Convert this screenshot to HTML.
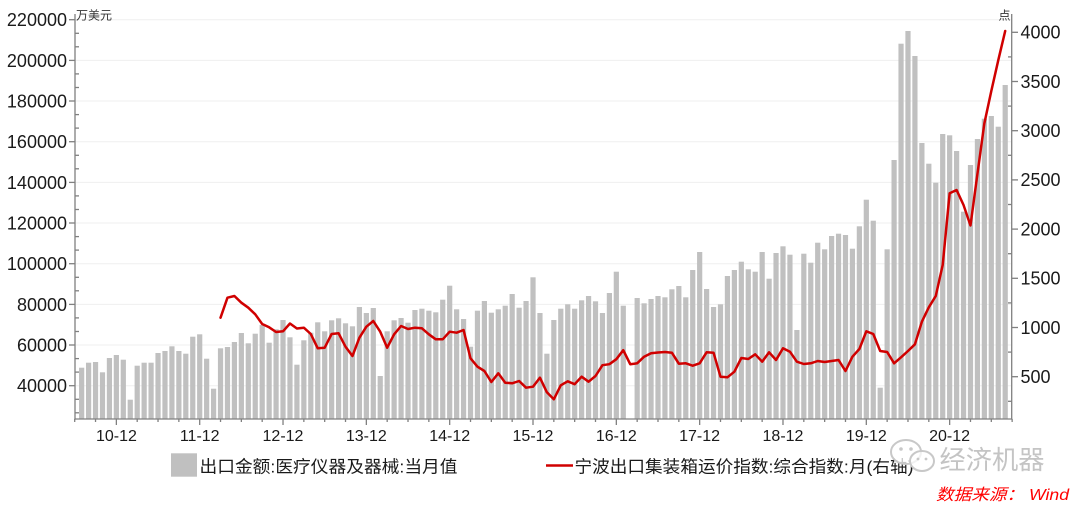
<!DOCTYPE html>
<html><head><meta charset="utf-8"><style>
html,body{margin:0;padding:0;background:#fff;width:1080px;height:505px;overflow:hidden;}
svg{display:block;font-family:"Liberation Sans","Noto Sans CJK SC",sans-serif;}
</style></head><body>
<svg width="1080" height="505" viewBox="0 0 1080 505" xmlns="http://www.w3.org/2000/svg">
<rect x="0" y="0" width="1080" height="505" fill="#fff"/>
<!-- grid -->
<g stroke="#efefef" stroke-width="1">
<line x1="75" x2="1011" y1="19.7" y2="19.7"/><line x1="75" x2="1011" y1="60.4" y2="60.4"/><line x1="75" x2="1011" y1="101" y2="101"/><line x1="75" x2="1011" y1="141.7" y2="141.7"/><line x1="75" x2="1011" y1="182.4" y2="182.4"/><line x1="75" x2="1011" y1="223" y2="223"/><line x1="75" x2="1011" y1="263.7" y2="263.7"/><line x1="75" x2="1011" y1="304.4" y2="304.4"/><line x1="75" x2="1011" y1="345" y2="345"/><line x1="75" x2="1011" y1="385.7" y2="385.7"/>
</g>
<!-- bars -->
<g transform="translate(72.1 0) scale(6.944 1)" fill="#c0c0c0">
<rect x="1" y="367.7" width="0.75" height="51.3"/><rect x="2" y="362.7" width="0.75" height="56.3"/><rect x="3" y="362" width="0.75" height="57"/><rect x="4" y="372.3" width="0.75" height="46.7"/><rect x="5" y="358" width="0.75" height="61"/><rect x="6" y="355" width="0.75" height="64"/><rect x="7" y="359.7" width="0.75" height="59.3"/><rect x="8" y="399.7" width="0.75" height="19.3"/><rect x="9" y="365.7" width="0.75" height="53.3"/><rect x="10" y="362.7" width="0.75" height="56.3"/>
<rect x="11" y="362.7" width="0.75" height="56.3"/><rect x="12" y="353" width="0.75" height="66"/><rect x="13" y="351" width="0.75" height="68"/><rect x="14" y="346.3" width="0.75" height="72.7"/><rect x="15" y="351" width="0.75" height="68"/><rect x="16" y="353.7" width="0.75" height="65.3"/><rect x="17" y="336.7" width="0.75" height="82.3"/><rect x="18" y="334.3" width="0.75" height="84.7"/><rect x="19" y="358.7" width="0.75" height="60.3"/><rect x="20" y="388.7" width="0.75" height="30.3"/>
<rect x="21" y="348.3" width="0.75" height="70.7"/><rect x="22" y="347" width="0.75" height="72"/><rect x="23" y="342" width="0.75" height="77"/><rect x="24" y="333" width="0.75" height="86"/><rect x="25" y="343.3" width="0.75" height="75.7"/><rect x="26" y="333.7" width="0.75" height="85.3"/><rect x="27" y="325" width="0.75" height="94"/><rect x="28" y="342.7" width="0.75" height="76.3"/><rect x="29" y="329.3" width="0.75" height="89.7"/><rect x="30" y="320" width="0.75" height="99"/>
<rect x="31" y="337.3" width="0.75" height="81.7"/><rect x="32" y="364.7" width="0.75" height="54.3"/><rect x="33" y="340.3" width="0.75" height="78.7"/><rect x="34" y="332.7" width="0.75" height="86.3"/><rect x="35" y="322.3" width="0.75" height="96.7"/><rect x="36" y="331.3" width="0.75" height="87.7"/><rect x="37" y="320.3" width="0.75" height="98.7"/><rect x="38" y="318.3" width="0.75" height="100.7"/><rect x="39" y="323.3" width="0.75" height="95.7"/><rect x="40" y="326.3" width="0.75" height="92.7"/>
<rect x="41" y="307" width="0.75" height="112"/><rect x="42" y="313" width="0.75" height="106"/><rect x="43" y="308" width="0.75" height="111"/><rect x="44" y="376" width="0.75" height="43"/><rect x="45" y="331.3" width="0.75" height="87.7"/><rect x="46" y="320.3" width="0.75" height="98.7"/><rect x="47" y="318" width="0.75" height="101"/><rect x="48" y="322.7" width="0.75" height="96.3"/><rect x="49" y="310" width="0.75" height="109"/><rect x="50" y="308.7" width="0.75" height="110.3"/>
<rect x="51" y="310.7" width="0.75" height="108.3"/><rect x="52" y="312.3" width="0.75" height="106.7"/><rect x="53" y="299.7" width="0.75" height="119.3"/><rect x="54" y="285.7" width="0.75" height="133.3"/><rect x="55" y="309.3" width="0.75" height="109.7"/><rect x="56" y="319" width="0.75" height="100"/><rect x="57" y="346.7" width="0.75" height="72.3"/><rect x="58" y="310.7" width="0.75" height="108.3"/><rect x="59" y="301" width="0.75" height="118"/><rect x="60" y="312.7" width="0.75" height="106.3"/>
<rect x="61" y="309.3" width="0.75" height="109.7"/><rect x="62" y="305.7" width="0.75" height="113.3"/><rect x="63" y="294" width="0.75" height="125"/><rect x="64" y="307.7" width="0.75" height="111.3"/><rect x="65" y="301" width="0.75" height="118"/><rect x="66" y="277.3" width="0.75" height="141.7"/><rect x="67" y="313" width="0.75" height="106"/><rect x="68" y="353.7" width="0.75" height="65.3"/><rect x="69" y="320" width="0.75" height="99"/><rect x="70" y="308.7" width="0.75" height="110.3"/>
<rect x="71" y="304.3" width="0.75" height="114.7"/><rect x="72" y="308.7" width="0.75" height="110.3"/><rect x="73" y="300.3" width="0.75" height="118.7"/><rect x="74" y="296" width="0.75" height="123"/><rect x="75" y="301.3" width="0.75" height="117.7"/><rect x="76" y="313" width="0.75" height="106"/><rect x="77" y="293" width="0.75" height="126"/><rect x="78" y="271.7" width="0.75" height="147.3"/><rect x="79" y="305.7" width="0.75" height="113.3"/>
<rect x="81" y="298" width="0.75" height="121"/><rect x="82" y="303.3" width="0.75" height="115.7"/><rect x="83" y="299" width="0.75" height="120"/><rect x="84" y="296" width="0.75" height="123"/><rect x="85" y="297.3" width="0.75" height="121.7"/><rect x="86" y="289.3" width="0.75" height="129.7"/><rect x="87" y="286" width="0.75" height="133"/><rect x="88" y="297.3" width="0.75" height="121.7"/><rect x="89" y="270" width="0.75" height="149"/><rect x="90" y="252" width="0.75" height="167"/>
<rect x="91" y="289" width="0.75" height="130"/><rect x="92" y="307" width="0.75" height="112"/><rect x="93" y="304.3" width="0.75" height="114.7"/><rect x="94" y="276" width="0.75" height="143"/><rect x="95" y="270" width="0.75" height="149"/><rect x="96" y="261.7" width="0.75" height="157.3"/><rect x="97" y="269.3" width="0.75" height="149.7"/><rect x="98" y="271.7" width="0.75" height="147.3"/><rect x="99" y="252" width="0.75" height="167"/><rect x="100" y="278.7" width="0.75" height="140.3"/>
<rect x="101" y="253" width="0.75" height="166"/><rect x="102" y="246.3" width="0.75" height="172.7"/><rect x="103" y="254.7" width="0.75" height="164.3"/><rect x="104" y="330" width="0.75" height="89"/><rect x="105" y="253.7" width="0.75" height="165.3"/><rect x="106" y="262.7" width="0.75" height="156.3"/><rect x="107" y="242.7" width="0.75" height="176.3"/><rect x="108" y="249.3" width="0.75" height="169.7"/><rect x="109" y="236" width="0.75" height="183"/><rect x="110" y="233.7" width="0.75" height="185.3"/>
<rect x="111" y="235" width="0.75" height="184"/><rect x="112" y="248.7" width="0.75" height="170.3"/><rect x="113" y="226.3" width="0.75" height="192.7"/><rect x="114" y="199.7" width="0.75" height="219.3"/><rect x="115" y="220.7" width="0.75" height="198.3"/><rect x="116" y="387.7" width="0.75" height="31.3"/><rect x="117" y="249.3" width="0.75" height="169.7"/><rect x="118" y="160" width="0.75" height="259"/><rect x="119" y="43.7" width="0.75" height="375.3"/><rect x="120" y="31" width="0.75" height="388"/>
<rect x="121" y="56" width="0.75" height="363"/><rect x="122" y="143" width="0.75" height="276"/><rect x="123" y="163.7" width="0.75" height="255.3"/><rect x="124" y="182.7" width="0.75" height="236.3"/><rect x="125" y="134" width="0.75" height="285"/><rect x="126" y="135.3" width="0.75" height="283.7"/><rect x="127" y="151" width="0.75" height="268"/><rect x="128" y="211.7" width="0.75" height="207.3"/><rect x="129" y="165" width="0.75" height="254"/><rect x="130" y="139" width="0.75" height="280"/>
<rect x="131" y="118.7" width="0.75" height="300.3"/><rect x="132" y="116" width="0.75" height="303"/><rect x="133" y="126.7" width="0.75" height="292.3"/><rect x="134" y="85" width="0.75" height="334"/>
</g>
<!-- line -->
<g transform="translate(74.7 0) scale(6.944 1)">
<polyline fill="none" stroke="#d00000" stroke-width="2.5" stroke-linejoin="round" stroke-linecap="round" vector-effect="non-scaling-stroke" points="21,317.7 22,297.7 23,296 24,302.7 25,307.7 26,314.3 27,324 28,327.3 29,332 30,331.3 31,323.5 32,328.5 33,327.7 34,334 35,348.3 36,347.7 37,334 38,333.3 39,346.7 40,356 41,337.7 42,326.7 43,321 44,331.7 45,347.7 46,334.3 47,326 48,329 49,327.7 50,328.3 51,334.3 52,339.3 53,339.3 54,331.7 55,332.7 56,330 57,358.3 58,366.7 59,371 60,382 61,373.3 62,382.7 63,383.3 64,381 65,387.7 66,386.7 67,377.7 68,392.3 69,399.3 70,385.3 71,381.3 72,384.2 73,376.7 74,381.7 75,376 76,365.2 77,364.2 78,359.2 79,350.2 80,364.2 81,363.3 82,356.7 83,353.3 84,352.5 85,352 86,352.7 87,363.7 88,363.3 89,365.7 90,363.3 91,352.3 92,352.7 93,376.7 94,377.3 95,371.7 96,358 97,359 98,354.3 99,361.7 100,352.3 101,360 102,348.3 103,351.7 104,361.7 105,364 106,363.3 107,361 108,362 109,361 110,360 111,371 112,356.7 113,349 114,331.3 115,334 116,351 117,352 118,363.3 119,357.3 120,351 121,344.3 122,321.7 123,307.3 124,296 125,265 126,193.3 127,190 128,205 129,225.5 130,174 131,123.3 132,91 133,60.3 134,31"/>
</g>
<!-- axes -->
<g stroke="#808080" stroke-width="1.3" fill="none">
<line x1="75" y1="14" x2="75" y2="419.6"/>
<line x1="1011.7" y1="14" x2="1011.7" y2="419.6"/>
<line x1="74.4" y1="419" x2="1012.3" y2="419"/>
<line x1="69" x2="75" y1="19.7" y2="19.7"/><line x1="75" x2="79" y1="33.3" y2="33.3"/><line x1="75" x2="79" y1="46.8" y2="46.8"/>
<line x1="69" x2="75" y1="60.4" y2="60.4"/><line x1="75" x2="79" y1="73.9" y2="73.9"/><line x1="75" x2="79" y1="87.5" y2="87.5"/>
<line x1="69" x2="75" y1="101" y2="101"/><line x1="75" x2="79" y1="114.6" y2="114.6"/><line x1="75" x2="79" y1="128.1" y2="128.1"/>
<line x1="69" x2="75" y1="141.7" y2="141.7"/><line x1="75" x2="79" y1="155.3" y2="155.3"/><line x1="75" x2="79" y1="168.8" y2="168.8"/>
<line x1="69" x2="75" y1="182.4" y2="182.4"/><line x1="75" x2="79" y1="195.9" y2="195.9"/><line x1="75" x2="79" y1="209.5" y2="209.5"/>
<line x1="69" x2="75" y1="223" y2="223"/><line x1="75" x2="79" y1="236.6" y2="236.6"/><line x1="75" x2="79" y1="250.1" y2="250.1"/>
<line x1="69" x2="75" y1="263.7" y2="263.7"/><line x1="75" x2="79" y1="277.3" y2="277.3"/><line x1="75" x2="79" y1="290.8" y2="290.8"/>
<line x1="69" x2="75" y1="304.4" y2="304.4"/><line x1="75" x2="79" y1="317.9" y2="317.9"/><line x1="75" x2="79" y1="331.5" y2="331.5"/>
<line x1="69" x2="75" y1="345" y2="345"/><line x1="75" x2="79" y1="358.6" y2="358.6"/><line x1="75" x2="79" y1="372.1" y2="372.1"/>
<line x1="69" x2="75" y1="385.7" y2="385.7"/><line x1="75" x2="79" y1="399.3" y2="399.3"/><line x1="75" x2="79" y1="412.8" y2="412.8"/>
<line x1="1011.7" x2="1018" y1="32.3" y2="32.3"/><line x1="1008" x2="1011.7" y1="56.9" y2="56.9"/>
<line x1="1011.7" x2="1018" y1="81.5" y2="81.5"/><line x1="1008" x2="1011.7" y1="106.1" y2="106.1"/>
<line x1="1011.7" x2="1018" y1="130.7" y2="130.7"/><line x1="1008" x2="1011.7" y1="155.3" y2="155.3"/>
<line x1="1011.7" x2="1018" y1="179.9" y2="179.9"/><line x1="1008" x2="1011.7" y1="204.5" y2="204.5"/>
<line x1="1011.7" x2="1018" y1="229.1" y2="229.1"/><line x1="1008" x2="1011.7" y1="253.7" y2="253.7"/>
<line x1="1011.7" x2="1018" y1="278.3" y2="278.3"/><line x1="1008" x2="1011.7" y1="302.9" y2="302.9"/>
<line x1="1011.7" x2="1018" y1="327.5" y2="327.5"/><line x1="1008" x2="1011.7" y1="352.1" y2="352.1"/>
<line x1="1011.7" x2="1018" y1="376.7" y2="376.7"/><line x1="1008" x2="1011.7" y1="401.3" y2="401.3"/>
</g>
<!-- x ticks -->
<g transform="translate(74.7 0) scale(6.944 1)" stroke="#808080" stroke-width="1.3">
<line x1="0" x2="0" y1="419" y2="422" vector-effect="non-scaling-stroke"/><line x1="3" x2="3" y1="419" y2="422" vector-effect="non-scaling-stroke"/><line x1="6" x2="6" y1="419" y2="425" vector-effect="non-scaling-stroke"/><line x1="9" x2="9" y1="419" y2="422" vector-effect="non-scaling-stroke"/><line x1="12" x2="12" y1="419" y2="422" vector-effect="non-scaling-stroke"/><line x1="15" x2="15" y1="419" y2="422" vector-effect="non-scaling-stroke"/>
<line x1="18" x2="18" y1="419" y2="425" vector-effect="non-scaling-stroke"/><line x1="21" x2="21" y1="419" y2="422" vector-effect="non-scaling-stroke"/><line x1="24" x2="24" y1="419" y2="422" vector-effect="non-scaling-stroke"/><line x1="27" x2="27" y1="419" y2="422" vector-effect="non-scaling-stroke"/>
<line x1="30" x2="30" y1="419" y2="425" vector-effect="non-scaling-stroke"/><line x1="33" x2="33" y1="419" y2="422" vector-effect="non-scaling-stroke"/><line x1="36" x2="36" y1="419" y2="422" vector-effect="non-scaling-stroke"/><line x1="39" x2="39" y1="419" y2="422" vector-effect="non-scaling-stroke"/>
<line x1="42" x2="42" y1="419" y2="425" vector-effect="non-scaling-stroke"/><line x1="45" x2="45" y1="419" y2="422" vector-effect="non-scaling-stroke"/><line x1="48" x2="48" y1="419" y2="422" vector-effect="non-scaling-stroke"/><line x1="51" x2="51" y1="419" y2="422" vector-effect="non-scaling-stroke"/>
<line x1="54" x2="54" y1="419" y2="425" vector-effect="non-scaling-stroke"/><line x1="57" x2="57" y1="419" y2="422" vector-effect="non-scaling-stroke"/><line x1="60" x2="60" y1="419" y2="422" vector-effect="non-scaling-stroke"/><line x1="63" x2="63" y1="419" y2="422" vector-effect="non-scaling-stroke"/>
<line x1="66" x2="66" y1="419" y2="425" vector-effect="non-scaling-stroke"/><line x1="69" x2="69" y1="419" y2="422" vector-effect="non-scaling-stroke"/><line x1="72" x2="72" y1="419" y2="422" vector-effect="non-scaling-stroke"/><line x1="75" x2="75" y1="419" y2="422" vector-effect="non-scaling-stroke"/>
<line x1="78" x2="78" y1="419" y2="425" vector-effect="non-scaling-stroke"/><line x1="81" x2="81" y1="419" y2="422" vector-effect="non-scaling-stroke"/><line x1="84" x2="84" y1="419" y2="422" vector-effect="non-scaling-stroke"/><line x1="87" x2="87" y1="419" y2="422" vector-effect="non-scaling-stroke"/>
<line x1="90" x2="90" y1="419" y2="425" vector-effect="non-scaling-stroke"/><line x1="93" x2="93" y1="419" y2="422" vector-effect="non-scaling-stroke"/><line x1="96" x2="96" y1="419" y2="422" vector-effect="non-scaling-stroke"/><line x1="99" x2="99" y1="419" y2="422" vector-effect="non-scaling-stroke"/>
<line x1="102" x2="102" y1="419" y2="425" vector-effect="non-scaling-stroke"/><line x1="105" x2="105" y1="419" y2="422" vector-effect="non-scaling-stroke"/><line x1="108" x2="108" y1="419" y2="422" vector-effect="non-scaling-stroke"/><line x1="111" x2="111" y1="419" y2="422" vector-effect="non-scaling-stroke"/>
<line x1="114" x2="114" y1="419" y2="425" vector-effect="non-scaling-stroke"/><line x1="117" x2="117" y1="419" y2="422" vector-effect="non-scaling-stroke"/><line x1="120" x2="120" y1="419" y2="422" vector-effect="non-scaling-stroke"/><line x1="123" x2="123" y1="419" y2="422" vector-effect="non-scaling-stroke"/>
<line x1="126" x2="126" y1="419" y2="425" vector-effect="non-scaling-stroke"/><line x1="129" x2="129" y1="419" y2="422" vector-effect="non-scaling-stroke"/><line x1="132" x2="132" y1="419" y2="422" vector-effect="non-scaling-stroke"/><line x1="135" x2="135" y1="419" y2="422" vector-effect="non-scaling-stroke"/>
</g>
<!-- left labels -->
<g font-size="18" fill="#1a1a1a" text-anchor="end">
<text x="67" y="26.2">220000</text><text x="67" y="66.9">200000</text><text x="67" y="107.5">180000</text><text x="67" y="148.2">160000</text><text x="67" y="188.9">140000</text><text x="67" y="229.5">120000</text><text x="67" y="270.2">100000</text><text x="67" y="310.9">80000</text><text x="67" y="351.5">60000</text><text x="67" y="392.2">40000</text>
</g>
<!-- right labels -->
<g font-size="18" fill="#1a1a1a">
<text x="1020.5" y="38.6">4000</text><text x="1020.5" y="87.8">3500</text><text x="1020.5" y="137">3000</text><text x="1020.5" y="186.2">2500</text><text x="1020.5" y="235.4">2000</text><text x="1020.5" y="284.6">1500</text><text x="1020.5" y="333.8">1000</text><text x="1020.5" y="383">500</text>
</g>
<!-- x labels -->
<g font-size="16" fill="#1a1a1a" text-anchor="middle">
<text x="116.4" y="441">10-12</text><text x="199.7" y="441">11-12</text><text x="283" y="441">12-12</text><text x="366.3" y="441">13-12</text><text x="449.7" y="441">14-12</text><text x="533" y="441">15-12</text><text x="616.3" y="441">16-12</text><text x="699.6" y="441">17-12</text><text x="783" y="441">18-12</text><text x="866.3" y="441">19-12</text><text x="949.6" y="441">20-12</text>
</g>
<!-- units -->
<text x="76" y="19.5" font-size="12" fill="#333">万美元</text>
<text x="998.5" y="19.5" font-size="12" fill="#333">点</text>
<!-- legend -->
<rect x="171" y="453.3" width="26" height="23.4" fill="#c0c0c0"/>
<text x="199.5" y="472.5" font-size="17" fill="#1a1a1a" textLength="258" lengthAdjust="spacingAndGlyphs">出口金额:医疗仪器及器械:当月值</text>
<line x1="546" y1="465.5" x2="573" y2="465.5" stroke="#d00000" stroke-width="2.5"/>
<text x="574.5" y="472.5" font-size="17" fill="#1a1a1a" textLength="339" lengthAdjust="spacingAndGlyphs">宁波出口集装箱运价指数:综合指数:月(右轴)</text>
<!-- watermark -->
<g fill="#fff" fill-opacity="0.75" stroke="#c8c8c8" stroke-width="2">
<ellipse cx="906" cy="452" rx="15" ry="12"/>
<ellipse cx="922" cy="461" rx="12" ry="10"/>
</g>
<g fill="#c8c8c8"><circle cx="901" cy="449" r="1.8"/><circle cx="911" cy="449" r="1.8"/><circle cx="918" cy="459" r="1.4"/><circle cx="926" cy="459" r="1.4"/></g>
<text x="939.5" y="469" font-size="26" fill="#c4c4c4" textLength="105" lengthAdjust="spacingAndGlyphs">经济机器</text>
<!-- source -->
<text x="936" y="500" font-size="16" fill="#ff0000" font-style="italic" textLength="133" lengthAdjust="spacingAndGlyphs">数据来源： Wind</text>
</svg>
</body></html>
